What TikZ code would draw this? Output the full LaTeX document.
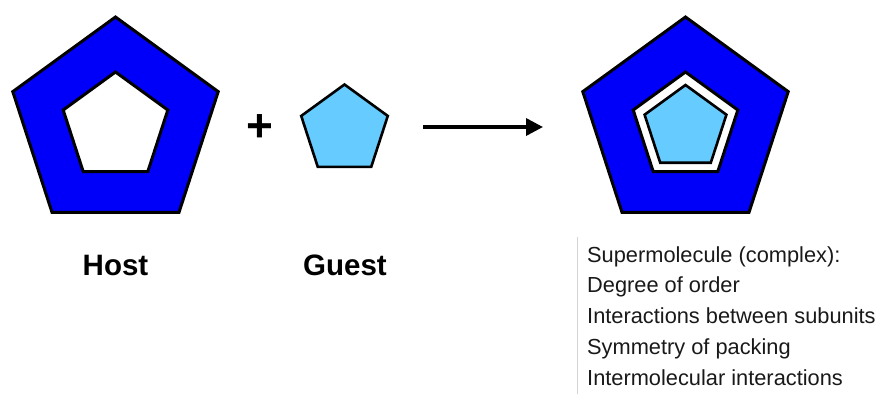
\documentclass[tikz,border=0pt]{standalone}
\usepackage{fontspec}
\setmainfont{Liberation Sans}
\usetikzlibrary{shapes.geometric,arrows.meta}

\definecolor{hostblue}{HTML}{0000FA}
\definecolor{guestblue}{HTML}{66CCFF}
\definecolor{rulegray}{HTML}{D4D4D4}

\tikzset{
  penta/.style={regular polygon, regular polygon sides=5, draw=black,
    inner sep=0pt, outer sep=0pt, line join=miter, minimum size=#1},
  hostshape/.style={penta=#1, fill=hostblue, line width=3pt},
  holeshape/.style={penta=#1, fill=white, line width=3pt},
  guestshape/.style={penta=#1, fill=guestblue, line width=2.6pt},
  biglabel/.style={font=\fontsize{29.5}{34}\selectfont\bfseries, inner sep=0pt},
  propline/.style={font=\fontsize{21.8}{25}\selectfont, anchor=base west, inner sep=0pt, text=black!90},
}

\begin{document}
\begin{tikzpicture}[x=1pt, y=-1pt]
  \useasboundingbox (0,0) rectangle (891,394);

  % host molecule with its cavity
  \node[hostshape=216pt] (host) at (115.5,125) {};
  \node[holeshape=110pt] (hosthole) at (115.5,127) {};
  \node[biglabel] (hostlabel) at (115.5,265) {Host};

  % plus sign
  \node[font=\fontsize{46}{46}\selectfont\bfseries, inner sep=0pt] (plus) at (260,128) {+};

  % guest molecule
  \node[guestshape=91pt] (guest) at (344.5,130) {};
  \node[biglabel] (guestlabel) at (345,265) {Guest};

  % reaction arrow
  \coordinate (arrstart) at (423,127);
  \coordinate (arrend) at (543,127);
  \draw[line width=3.5pt, -{Triangle[length=17pt, width=17pt]}] (arrstart) -- (arrend);

  % host-guest complex
  \node[hostshape=216pt] (cplx) at (685.5,125) {};
  \node[holeshape=110pt] (cplxhole) at (685.5,127) {};
  \node[guestshape=86pt] (cplxguest) at (685.5,128) {};

  % description of the supermolecule
  \coordinate (ruletop) at (577,237);
  \coordinate (rulebot) at (577,394);
  \draw[rulegray, line width=1pt] (ruletop) -- (rulebot);
  \node[propline] (p1) at (587,262) {Supermolecule (complex):};
  \node[propline] (p2) at (587,292.75) {Degree of order};
  \node[propline] (p3) at (587,323.5) {Interactions between subunits};
  \node[propline] (p4) at (587,354.25) {Symmetry of packing};
  \node[propline] (p5) at (587,385) {Intermolecular interactions};
\end{tikzpicture}
\end{document}
